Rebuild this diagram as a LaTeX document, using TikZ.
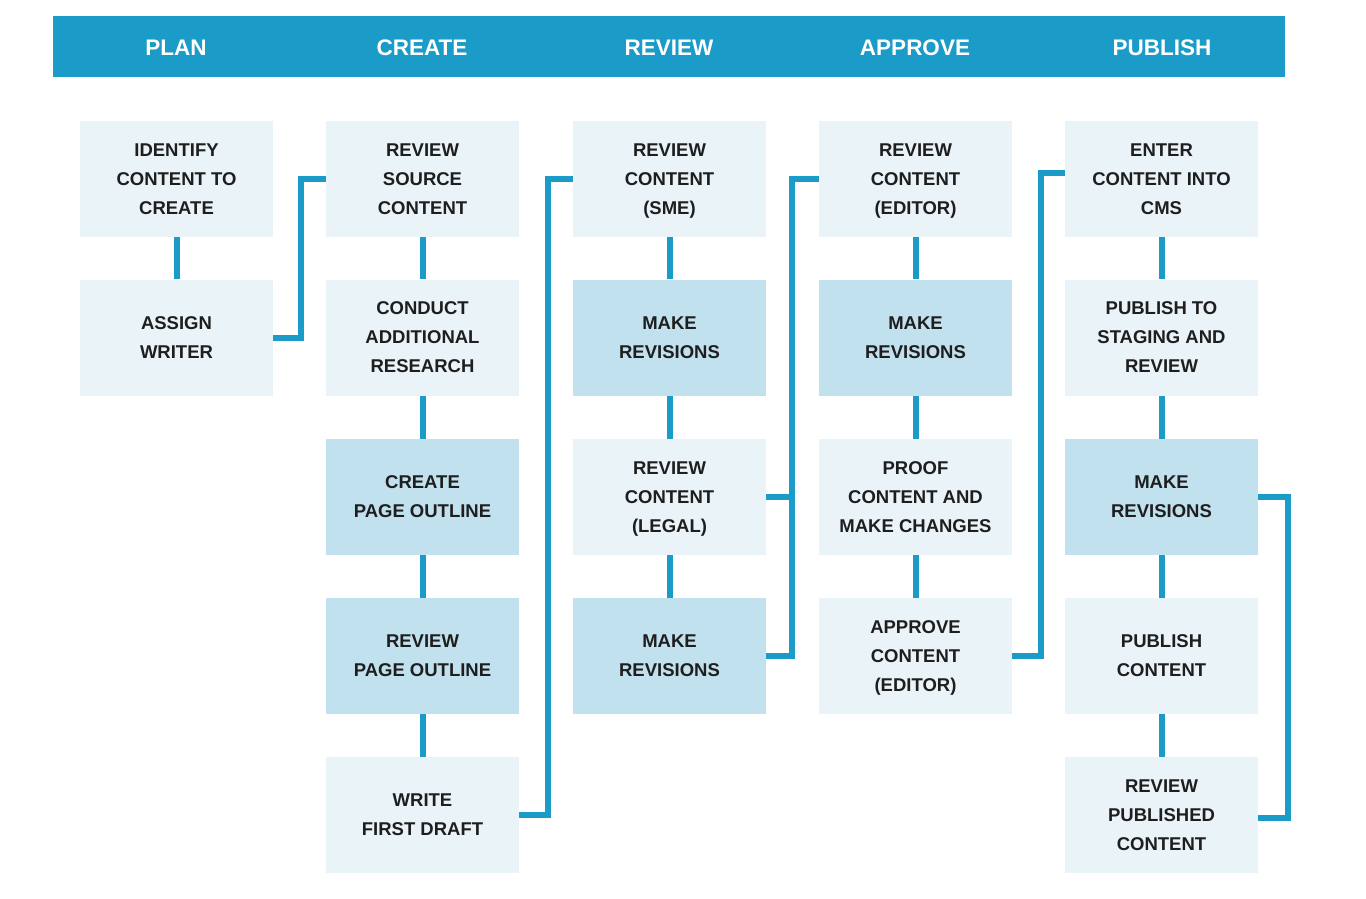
\documentclass[tikz,border=0pt]{standalone}
\usepackage{fontspec}
\setmainfont{Liberation Sans}
\definecolor{hdr}{HTML}{1B9BC8}
\definecolor{lightbox}{HTML}{EAF4F8}
\definecolor{darkbox}{HTML}{C1E1EE}
\definecolor{txt}{HTML}{1E1E1E}
\tikzset{
  stepbox/.style={rectangle, fill=lightbox, minimum width=193pt, minimum height=116pt,
    inner sep=0pt, align=center, text=txt, text depth=0pt,
    font={\fontsize{18.5}{29}\selectfont\bfseries}},
  darkstep/.style={stepbox, fill=darkbox},
  hdrlabel/.style={text=white, font={\fontsize{22.5}{26}\selectfont\bfseries}},
  link/.style={draw=hdr, line width=6pt},
}
\begin{document}
\begin{tikzpicture}[x=1pt,y=-1pt]
\useasboundingbox (0,0) rectangle (1366,898);
\fill[white] (0,0) rectangle (1366,898);
% header
\node[rectangle, fill=hdr, minimum width=1232pt, minimum height=61pt, inner sep=0pt] (header) at (669,46.5) {};
\node[hdrlabel] (hplan) at (176,47.5) {PLAN};
\node[hdrlabel] (hcreate) at (422,47.5) {CREATE};
\node[hdrlabel] (hreview) at (669,47.5) {REVIEW};
\node[hdrlabel] (happrove) at (915,47.5) {APPROVE};
\node[hdrlabel] (hpublish) at (1162,47.5) {PUBLISH};
% column 1
\node[stepbox] (a1) at (176.5,179) {IDENTIFY\\CONTENT TO\\CREATE};
\node[stepbox] (a2) at (176.5,337.5) {ASSIGN\\WRITER};
% column 2
\node[stepbox] (b1) at (422.5,179) {REVIEW\\SOURCE\\CONTENT};
\node[stepbox] (b2) at (422.5,337.5) {CONDUCT\\ADDITIONAL\\RESEARCH};
\node[darkstep] (b3) at (422.5,497) {CREATE\\PAGE OUTLINE};
\node[darkstep] (b4) at (422.5,656) {REVIEW\\PAGE OUTLINE};
\node[stepbox] (b5) at (422.5,815) {WRITE\\FIRST DRAFT};
% column 3
\node[stepbox] (c1) at (669.5,179) {REVIEW\\CONTENT\\(SME)};
\node[darkstep] (c2) at (669.5,337.5) {MAKE\\REVISIONS};
\node[stepbox] (c3) at (669.5,497) {REVIEW\\CONTENT\\(LEGAL)};
\node[darkstep] (c4) at (669.5,656) {MAKE\\REVISIONS};
% column 4
\node[stepbox] (d1) at (915.5,179) {REVIEW\\CONTENT\\(EDITOR)};
\node[darkstep] (d2) at (915.5,337.5) {MAKE\\REVISIONS};
\node[stepbox] (d3) at (915.5,497) {PROOF\\CONTENT AND\\MAKE CHANGES};
\node[stepbox] (d4) at (915.5,656) {APPROVE\\CONTENT\\(EDITOR)};
% column 5
\node[stepbox] (e1) at (1161.5,179) {ENTER\\CONTENT INTO\\CMS};
\node[stepbox] (e2) at (1161.5,337.5) {PUBLISH TO\\STAGING AND\\REVIEW};
\node[darkstep] (e3) at (1161.5,497) {MAKE\\REVISIONS};
\node[stepbox] (e4) at (1161.5,656) {PUBLISH\\CONTENT};
\node[stepbox] (e5) at (1161.5,815) {REVIEW\\PUBLISHED\\CONTENT};
% vertical links
\draw[link] (a1.south) -- (a2.north);
\draw[link] (b1.south) -- (b2.north);
\draw[link] (b2.south) -- (b3.north);
\draw[link] (b3.south) -- (b4.north);
\draw[link] (b4.south) -- (b5.north);
\draw[link] (c1.south) -- (c2.north);
\draw[link] (c2.south) -- (c3.north);
\draw[link] (c3.south) -- (c4.north);
\draw[link] (d1.south) -- (d2.north);
\draw[link] (d2.south) -- (d3.north);
\draw[link] (d3.south) -- (d4.north);
\draw[link] (e1.south) -- (e2.north);
\draw[link] (e2.south) -- (e3.north);
\draw[link] (e3.south) -- (e4.north);
\draw[link] (e4.south) -- (e5.north);
% column-to-column links
\draw[link] (a2.east) -- ++(28,0) |- (b1.west);
\draw[link] (b5.east) -- ++(29,0) |- (c1.west);
\draw[link] (c4.east) -- ++(26,0) |- (d1.west);
\draw[link] (c3.east) -- ++(26,0);
\draw[link] (d4.east) -- ++(29,0) |- ([yshift=6pt]e1.west);
\draw[link] (e3.east) -- ++(30,0) |- ([yshift=-3pt]e5.east);
\end{tikzpicture}
\end{document}
